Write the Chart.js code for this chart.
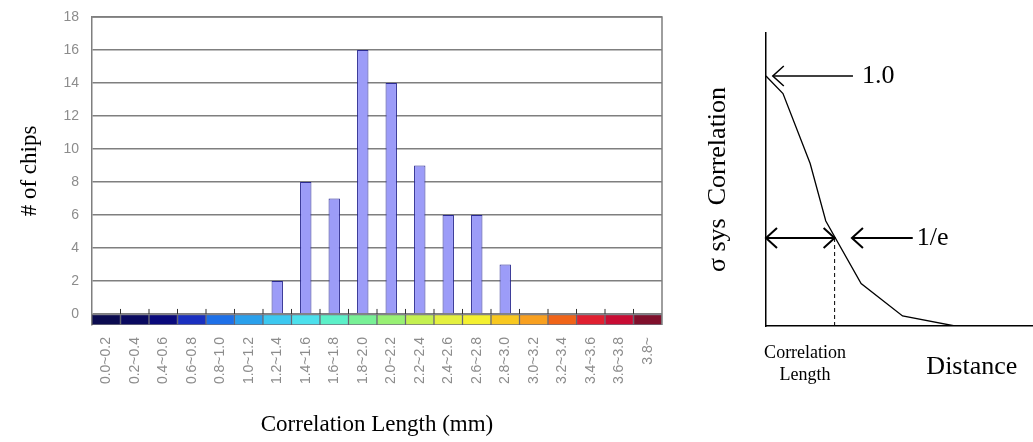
<!DOCTYPE html>
<html>
<head>
<meta charset="utf-8">
<script src="https://cdn.jsdelivr.net/npm/chart.js@4/dist/chart.umd.min.js"></script>
<style>
  html, body { margin: 0; padding: 0; background: #fff; }
  body { width: 1033px; height: 442px; position: relative; overflow: hidden; }
  #histBox { position: absolute; left: 0; top: 0; width: 680px; height: 442px; }
  #corrBox { position: absolute; left: 690px; top: 0; width: 343px; height: 442px; }
</style>
</head>
<body>
<div id="histBox"><canvas id="histChart" width="680" height="442"></canvas></div>
<div id="corrBox"><canvas id="corrChart" width="343" height="442"></canvas></div>
<script>
// histogram data
const lengthBins = ['0.0~0.2', '0.2~0.4', '0.4~0.6', '0.6~0.8', '0.8~1.0', '1.0~1.2', '1.2~1.4',
  '1.4~1.6', '1.6~1.8', '1.8~2.0', '2.0~2.2', '2.2~2.4', '2.4~2.6', '2.6~2.8', '2.8~3.0',
  '3.0~3.2', '3.2~3.4', '3.4~3.6', '3.6~3.8', '3.8~'];
const chipCounts = [0, 0, 0, 0, 0, 0, 2, 8, 7, 16, 14, 9, 6, 6, 3, 0, 0, 0, 0, 0];
const countTicks = [0, 2, 4, 6, 8, 10, 12, 14, 16, 18];
const bandColors = ['#0b0b50', '#0a0a60', '#0a0a7c', '#1a30c0', '#1e70e8', '#2aa0ec',
  '#3cc8f0', '#4ce0ec', '#5cf0c8', '#78f096', '#98f074', '#c4f050', '#e4f040', '#f4f030',
  '#f8c820', '#f8a020', '#f06418', '#e02030', '#c80c34', '#80102c'];
const bandFloor = -0.67;

// correlation sketch data
const distance = [0, 0.25, 0.65, 0.88, 1.40, 2.01, 2.78];
const correlation = [1.0, 0.93, 0.65, 0.42, 0.17, 0.04, 0];
const unityArrow = { y: 1.0, from: 1.28, to: 0.1, label: '1.0' };
const eArrow = { y: 0.352, from: 2.16, to: 1.265, label: '1/e' };
const corrLength = 1.01;

const serif = 'Liberation Serif';
const gridGray = '#7f7f7f';

// frame + little tick marks above the colour band
const histFrame = {
  id: 'histFrame',
  afterDatasetsDraw(chart) {
    const { ctx, chartArea: a, scales: { x, y } } = chart;
    ctx.save();
    ctx.strokeStyle = gridGray;
    ctx.lineWidth = 1.5;
    ctx.beginPath();
    ctx.moveTo(a.left, a.top);
    ctx.lineTo(a.right, a.top);
    ctx.lineTo(a.right, a.bottom);
    ctx.stroke();
    const y0 = y.getPixelForValue(0);
    ctx.strokeStyle = '#333';
    ctx.lineWidth = 1;
    ctx.beginPath();
    for (let i = 0; i < lengthBins.length - 1; i++) {
      const xb = (x.getPixelForValue(i) + x.getPixelForValue(i + 1)) / 2;
      ctx.moveTo(xb, y0);
      ctx.lineTo(xb, y0 - 5);
    }
    ctx.stroke();
    ctx.restore();
  }
};

new Chart(document.getElementById('histChart'), {
  type: 'bar',
  data: {
    labels: lengthBins,
    datasets: [
      {
        data: chipCounts,
        backgroundColor: '#9c9cf8',
        borderColor: '#2a2a90',
        borderWidth: 1,
        grouped: false,
        barPercentage: 0.4,
        categoryPercentage: 1,
        order: 1
      },
      {
        data: lengthBins.map(() => [bandFloor, 0]),
        backgroundColor: bandColors,
        borderColor: 'rgba(20,20,40,0.6)',
        borderWidth: 1,
        borderSkipped: false,
        grouped: false,
        barPercentage: 1,
        categoryPercentage: 1,
        order: 2
      }
    ]
  },
  options: {
    responsive: false,
    animation: false,
    layout: { padding: { top: 17, right: 18, left: 0, bottom: 0 } },
    plugins: { legend: { display: false }, tooltip: { enabled: false } },
    scales: {
      x: {
        afterFit: s => { s.height = 117; s.paddingLeft = 0; s.paddingRight = 0; },
        grid: { display: false },
        border: { display: false },
        ticks: {
          autoSkip: false, minRotation: 90, maxRotation: 90, padding: 4,
          color: '#8c8c8c', font: { family: 'Liberation Sans', size: 14 }
        },
        title: {
          display: true, text: 'Correlation Length (mm)', color: '#000',
          font: { family: serif, size: 23 }, padding: { top: 0, bottom: 3 }
        }
      },
      y: {
        min: bandFloor,
        max: 18,
        afterFit: s => { s.width = 92; s.paddingTop = 0; s.paddingBottom = 0; },
        afterBuildTicks: s => { s.ticks = countTicks.map(v => ({ value: v })); },
        grid: { color: gridGray, lineWidth: 1.5, drawTicks: false },
        border: { display: true, color: gridGray, width: 1.5 },
        ticks: { padding: 13, color: '#8c8c8c', font: { family: 'Liberation Sans', size: 14 } },
        title: {
          display: true, text: '# of chips', color: '#000',
          font: { family: serif, size: 23 }, padding: { top: 16, bottom: 0 }
        }
      }
    }
  },
  plugins: [histFrame]
});

// arrows and labels of the sketch
function chevron(ctx, xt, yt, dir) {
  ctx.beginPath();
  ctx.moveTo(xt + dir * 11, yt - 10);
  ctx.lineTo(xt, yt);
  ctx.lineTo(xt + dir * 11, yt + 10);
  ctx.stroke();
}

const corrNotes = {
  id: 'corrNotes',
  afterDatasetsDraw(chart) {
    const { ctx, scales: { x, y } } = chart;
    ctx.save();
    ctx.strokeStyle = '#000';
    ctx.fillStyle = '#000';

    // 1.0 arrow
    let yy = y.getPixelForValue(unityArrow.y);
    let x1 = x.getPixelForValue(unityArrow.from), x2 = x.getPixelForValue(unityArrow.to);
    ctx.lineWidth = 1.5;
    ctx.beginPath(); ctx.moveTo(x1, yy); ctx.lineTo(x2, yy); ctx.stroke();
    chevron(ctx, x2, yy, 1);
    ctx.font = '26px ' + serif;
    ctx.textBaseline = 'middle';
    ctx.textAlign = 'left';
    ctx.fillText(unityArrow.label, x1 + 9, yy);

    // 1/e arrow
    yy = y.getPixelForValue(eArrow.y);
    x1 = x.getPixelForValue(eArrow.from); x2 = x.getPixelForValue(eArrow.to);
    ctx.lineWidth = 2;
    ctx.beginPath(); ctx.moveTo(x1, yy); ctx.lineTo(x2, yy); ctx.stroke();
    chevron(ctx, x2, yy, 1);
    ctx.fillText(eArrow.label, x1 + 4, yy);

    // correlation length double arrow
    const xa = x.getPixelForValue(0), xc = x.getPixelForValue(corrLength);
    ctx.beginPath(); ctx.moveTo(xa, yy); ctx.lineTo(xc, yy); ctx.stroke();
    chevron(ctx, xa, yy, 1);
    chevron(ctx, xc, yy, -1);

    // dashed drop line
    ctx.lineWidth = 1;
    ctx.setLineDash([4, 3]);
    ctx.beginPath(); ctx.moveTo(xc, yy); ctx.lineTo(xc, y.getPixelForValue(0)); ctx.stroke();
    ctx.setLineDash([]);

    // labels under the axis
    const yb = y.getPixelForValue(0);
    ctx.textAlign = 'center';
    ctx.font = '18px ' + serif;
    const xl = x.getPixelForValue(corrLength * 0.57);
    ctx.fillText('Correlation', xl, yb + 27);
    ctx.fillText('Length', xl, yb + 49);
    ctx.font = '26px ' + serif;
    ctx.fillText('Distance', x.getPixelForValue(3.03), yb + 41);
    ctx.restore();
  }
};

new Chart(document.getElementById('corrChart'), {
  type: 'line',
  data: {
    datasets: [{
      data: distance.map((d, i) => ({ x: d, y: correlation[i] })),
      borderColor: '#000',
      borderWidth: 1.3,
      pointRadius: 0,
      tension: 0,
      fill: false
    }]
  },
  options: {
    responsive: false,
    animation: false,
    layout: { padding: { top: 33, right: 0, left: 0, bottom: 0 } },
    plugins: { legend: { display: false }, tooltip: { enabled: false } },
    scales: {
      x: {
        type: 'linear', min: 0, max: 3.93,
        afterFit: s => { s.height = 116; },
        grid: { display: false },
        border: { display: true, color: '#000', width: 1.5 },
        ticks: { display: false }
      },
      y: {
        min: 0, max: 1.172,
        afterFit: s => { s.width = 76; },
        grid: { display: false },
        border: { display: true, color: '#000', width: 1.5 },
        ticks: { display: false },
        title: {
          display: true, text: 'σ sys  Correlation', color: '#000',
          font: { family: serif, size: 26 }, padding: { top: 13, bottom: 0 }
        }
      }
    }
  },
  plugins: [corrNotes]
});
</script>
</body>
</html>
